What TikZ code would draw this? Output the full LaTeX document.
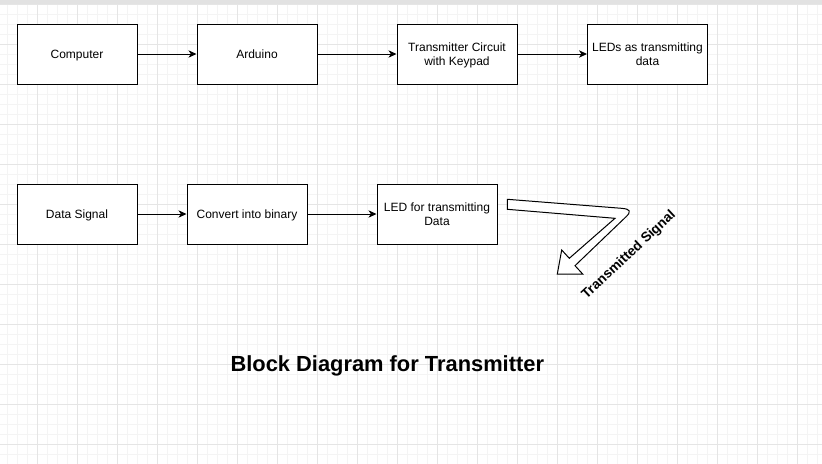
\documentclass[tikz,border=0pt]{standalone}
\usepackage{fontspec}
\setmainfont{Liberation Sans}
\usetikzlibrary{arrows.meta}
\definecolor{gminor}{RGB}{244,244,244}
\definecolor{gmajor}{RGB}{229,229,229}
\definecolor{topbar}{RGB}{226,226,226}
\begin{document}
\begin{tikzpicture}[x=0.75pt,y=-0.75pt,
  blk/.style={draw=black,line width=0.75pt,fill=white,minimum width=90pt,minimum height=45pt,inner sep=0pt,align=center,text height=6.4pt,text depth=0pt,font=\fontsize{9pt}{10.5pt}\selectfont},
  twoline/.style={text height=16.9pt},
  conn/.style={line width=0.75pt,-{Stealth[length=6pt,width=5.5pt,inset=1.8pt]}},
  minorg/.style={draw=gminor,line width=0.75pt},
  majorg/.style={draw=gmajor,line width=0.75pt}]
\useasboundingbox (0,0) rectangle (822,464);
\fill[white] (0,0) rectangle (822,464);
% grid
\foreach \x in {7,17,...,817} \draw[minorg] (\x,0) -- (\x,464);
\foreach \y in {4,14,...,464} \draw[minorg] (0,\y) -- (822,\y);
\foreach \x in {37,77,...,797} \draw[majorg] (\x,0) -- (\x,464);
\foreach \y in {4,44,...,444} \draw[majorg] (0,\y) -- (822,\y);
\fill[topbar] (0,0) rectangle (822,4);
% row 1
\node[blk] (comp) at (77,54) {Computer};
\node[blk] (ard) at (257,54) {Arduino};
\node[blk,twoline] (tx) at (457,54) {Transmitter Circuit\\with Keypad};
\node[blk,twoline] (leds) at (647.5,54) {LEDs as transmitting\\data};
\draw[conn] (comp) -- (ard);
\draw[conn] (ard) -- (tx);
\draw[conn] (tx) -- (leds);
% row 2
\node[blk] (ds) at (77,214) {Data Signal};
\node[blk] (cb) at (247,214) {Convert into binary};
\node[blk,twoline] (led) at (437,214) {LED for transmitting\\Data};
\draw[conn] (ds) -- (cb);
\draw[conn] (cb) -- (led);
% bent flex arrow
\draw[line width=0.75pt,fill=white,line join=miter]
  (507.3,199.3) -- (621.5,208.3) .. controls (630.5,209) and (631.5,211.5) .. (626,216.8)
  -- (575,265.7) -- (582.7,274) -- (557.3,274) -- (561.7,250) -- (569.3,258.3)
  -- (615,218.3) -- (507.3,209.3) -- cycle;
\node[rotate=43,font=\bfseries\fontsize{10.25pt}{11pt}\selectfont,inner sep=0pt,text height=7.3pt,text depth=0pt] (ts) at (628,254) {Transmitted Signal};
% title
\node[font=\bfseries\fontsize{16.4pt}{19pt}\selectfont,inner sep=0pt,text height=11.7pt,text depth=0pt] (title) at (387.3,364) {Block Diagram for Transmitter};
\end{tikzpicture}
\end{document}
